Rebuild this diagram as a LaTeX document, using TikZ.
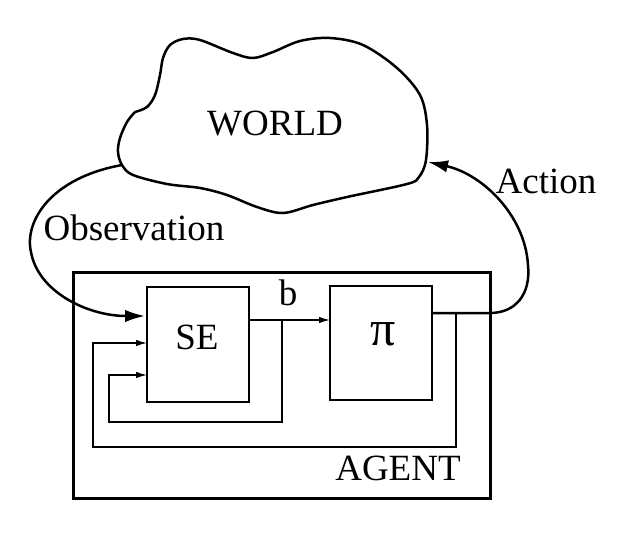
\documentclass[tikz,border=0pt]{standalone}
\usepackage{fontspec}
\setmainfont{Liberation Serif}
\usetikzlibrary{arrows.meta}
\begin{document}
\begin{tikzpicture}[x=1pt,y=-1pt,
  lbl/.style={font=\fontsize{37}{40}\selectfont, inner sep=0pt},
  box/.style={draw, line width=1.2pt, inner sep=0pt},
  thin/.style={line width=1.2pt, -{Latex[length=11pt,width=6.5pt]}},
  thick/.style={line width=2.5pt, -{Latex[length=20pt,width=12.5pt]}},
  cloudline/.style={line width=2.5pt, line join=round}]
\useasboundingbox (0,0) rectangle (630,536);
% cloud
\draw[cloudline] plot[smooth, tension=0.55] coordinates {
 (135,112) (147,107) (155,95) (160,75) (163,58) (170,45) (183,39) (200,40)
 (233,53) (253,58) (273,52) (300,41) (330,38) (363,45) (397,68) (420,95)
 (427,125) (426,160) (419,177) (407,184) (347,197) (313,205) (283,213)
 (257,207) (227,195) (200,188) (167,184) (133,175) (122,165) (118,152)
 (120,138) (127,122) (135,112)};
\coordinate (wobs) at (122,165);
\coordinate (wact) at (428,162);
\node[lbl] (world) at (275,124) {WORLD};
% agent
\node[draw, line width=3pt, minimum width=417pt, minimum height=226pt, inner sep=0pt] (agent) at (281.5,385) {};
\node[box, minimum width=102pt, minimum height=115pt] (se) at (198,344.5) {};
\node[box, minimum width=102pt, minimum height=114pt] (pi) at (381,343) {};
\node[lbl] (selbl) at (197,337) {SE};
\node[lbl, font=\fontsize{50}{54}\selectfont] (pilbl) at (383,334) {π};
\node[lbl] (blbl) at (288,293) {b};
\node[lbl] (agentlbl) at (398,468) {AGENT};
\node[lbl] (obs) at (134,228) {Observation};
\node[lbl] (act) at (546,181) {Action};
% connectors inside
\coordinate (sein1) at (147,375);
\coordinate (sein2) at (147,343);
\coordinate (seobs) at (145,316);
\coordinate (seout) at (249,320);
\coordinate (piin) at (330,320);
\coordinate (piout) at (432,313);
\draw[thin] (seout) -- (piin);
\draw[thin] (282,320) -- (282,422) -- (109,422) -- (109,375) -- (sein1);
\draw[thin] (456,313) -- (456,447) -- (93,447) -- (93,343) -- (sein2);
% observation and action
\draw[thick] (wobs) .. controls (50,178) and (24,222) .. (31,252)
  .. controls (38,292) and (88,316) .. (seobs);
\draw[thick] (piout) -- (490,313) .. controls (515,313) and (531,295) .. (528,265)
  .. controls (525,215) and (482,174) .. (wact);
\end{tikzpicture}
\end{document}
